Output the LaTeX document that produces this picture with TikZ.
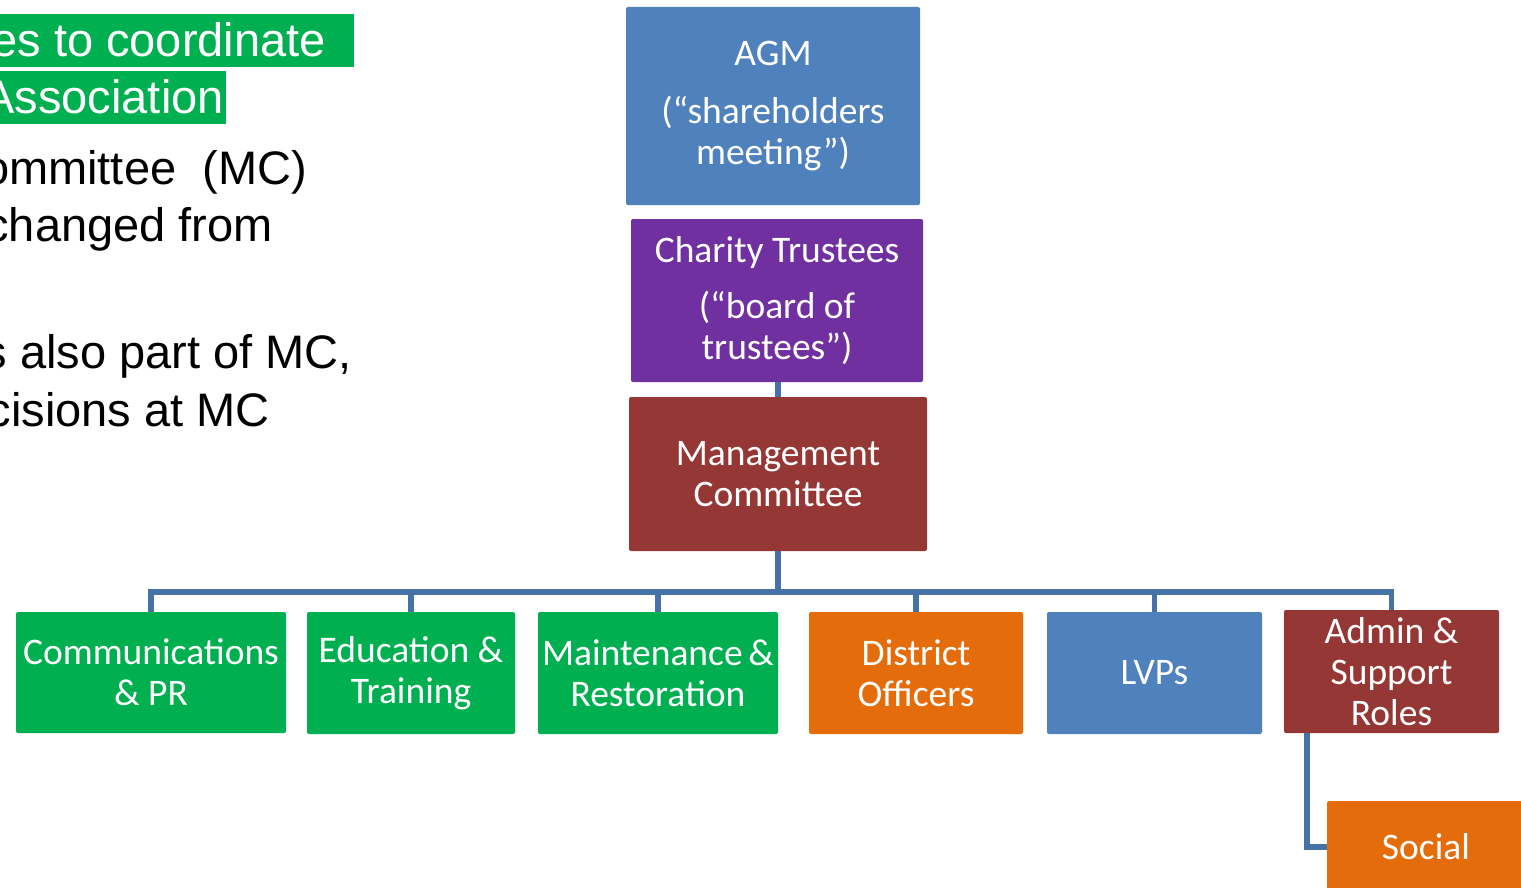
\documentclass[tikz,border=0pt]{standalone}
\usepackage{fontspec}
\setmainfont{Carlito}
\newfontfamily\arialf{Liberation Sans}
\definecolor{blueb}{RGB}{79,129,189}
\definecolor{purpleb}{RGB}{112,48,160}
\definecolor{redb}{RGB}{149,55,53}
\definecolor{greenb}{RGB}{0,176,80}
\definecolor{orangeb}{RGB}{228,108,10}
\definecolor{connc}{RGB}{69,114,167}
\begin{document}
\begin{tikzpicture}[x=1pt,y=-1pt,
  box/.style={rectangle, rounded corners=2pt, text=white, align=center, inner sep=0pt,
    font=\fontsize{37.5}{41}\selectfont},
  conn/.style={draw=connc, line width=5.5pt},
  lefttxt/.style={anchor=base east, inner sep=0pt, font=\arialf\fontsize{47}{56}\selectfont},
  hl/.style={fill=greenb, draw=none}]
\useasboundingbox (0,0) rectangle (1521,888);
\clip (0,0) rectangle (1521,888);
% left text
\fill[hl] (0,14) rectangle (354,67);
\fill[hl] (0,71) rectangle (226,124);
\node[lefttxt, text=white] (t1) at (326,57) {es to coordinate};
\node[lefttxt, text=white] (t2) at (224,114) {Association};
\node[lefttxt] (t3) at (307,184) {ommittee\ \ (MC)};
\node[lefttxt] (t4) at (273,241) {changed from};
\node[lefttxt] (t5) at (352,368) {s also part of MC,};
\node[lefttxt] (t6) at (270,426) {cisions at MC};
% boxes
\node[box, fill=blueb, minimum width=294pt, minimum height=198pt] (agm) at (773,106)
  {AGM\\[17pt](“shareholders\\meeting”)};
\node[box, fill=purpleb, minimum width=292pt, minimum height=163pt] (ct) at (777,300.5)
  {Charity Trustees\\[15pt](“board of\\trustees”)};
\node[box, fill=redb, minimum width=298pt, minimum height=154pt] (mc) at (778,474)
  {Management\\Committee};
\node[box, fill=greenb, minimum width=270pt, minimum height=121pt] (comm) at (151,672.5)
  {Communications\\\& PR};
\node[box, fill=greenb, minimum width=208pt, minimum height=122pt] (edu) at (411,673)
  {Education \&\\Training};
\node[box, fill=greenb, minimum width=240pt, minimum height=122pt] (maint) at (658,673)
  {Maintenance\kern0.15em\&\\Restoration};
\node[box, fill=orangeb, minimum width=214pt, minimum height=122pt] (dist) at (916,673)
  {District\\Officers};
\node[box, fill=blueb, minimum width=215pt, minimum height=122pt] (lvp) at (1154.5,673)
  {LVPs};
\node[box, fill=redb, minimum width=215pt, minimum height=123pt] (admin) at (1391.5,671.5)
  {Admin \&\\Support\\Roles};
\node[box, fill=orangeb, minimum width=198pt, minimum height=92pt] (social) at (1426,847)
  {Social};
% connectors
\draw[conn] (ct.south -| mc.north) -- (mc.north);
\draw[conn] (mc.south) -- ++(0,41) coordinate (busc);
\foreach \c in {comm,edu,maint,dist,lvp,admin}{
  \draw[conn, line join=miter] (busc) -| (\c.north);
}
\draw[conn] ([xshift=23pt]admin.south west) |- (social.west);
\end{tikzpicture}
\end{document}
